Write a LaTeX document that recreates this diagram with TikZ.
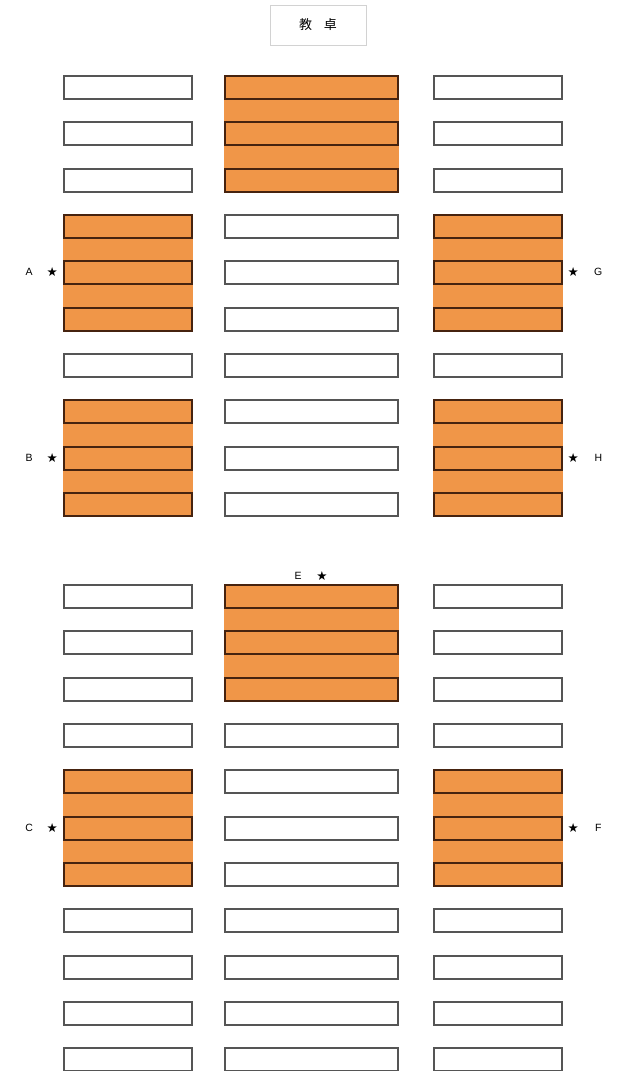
\documentclass[tikz,border=0pt]{standalone}
\usepackage{fontspec}
\setmainfont{Liberation Sans}
\newfontfamily\cjk{Noto Sans CJK SC}
\newfontfamily\symb{DejaVu Sans}
\usetikzlibrary{backgrounds}
\definecolor{seatorange}{RGB}{240,150,72}
\definecolor{brownline}{RGB}{70,35,15}
\definecolor{seatgray}{RGB}{85,85,85}
\definecolor{deskgray}{RGB}{210,210,210}
\tikzset{
  seat/.style={draw=seatgray, line width=1.5pt, fill=white, inner sep=0pt, anchor=north west, minimum height=23pt},
  hot/.style={draw=brownline, fill=seatorange},
  sidew/.style={minimum width=128pt},
  midw/.style={minimum width=173pt},
  lbl/.style={inner sep=0pt, font=\fontsize{10.5}{12}\selectfont},
  starlbl/.style={inner sep=0pt, font=\symb\fontsize{12.5}{14}\selectfont},
  desk/.style={draw=deskgray, line width=1pt, fill=white, minimum width=96pt, minimum height=40pt, font=\cjk\fontsize{13}{15}\selectfont}
}
\newcommand{\rowtop}[1]{\pgfmathsetmacro\yy{round(#1<11 ? 75+(#1-1)*46.33 : 584+(#1-11)*46.33)}}
\begin{document}
\begin{tikzpicture}[x=1pt, y=-1pt]
\useasboundingbox (0,0) rectangle (619,1071);
\begin{scope}[on background layer]
  \fill[white] (0,0) rectangle (619,1071);
\end{scope}
\node[desk] (desk) at (318,25) {教\hspace{0.9em}卓};
% side columns, plain seats
\foreach \i in {1,2,3,7,11,12,13,14,18,19,20,21}{
  \rowtop{\i}
  \node[seat, sidew] (L\i) at (63,\yy) {};
  \node[seat, sidew] (R\i) at (433,\yy) {};
}
% side columns, highlighted seats
\foreach \i in {4,5,6,8,9,10,15,16,17}{
  \rowtop{\i}
  \node[seat, sidew, hot] (L\i) at (63,\yy) {};
  \node[seat, sidew, hot] (R\i) at (433,\yy) {};
}
% centre column, plain seats
\foreach \i in {4,5,6,7,8,9,10,14,15,16,17,18,19,20,21}{
  \rowtop{\i}
  \node[seat, midw] (C\i) at (224,\yy) {};
}
% centre column, highlighted seats
\foreach \i in {1,2,3,11,12,13}{
  \rowtop{\i}
  \node[seat, midw, hot] (C\i) at (224,\yy) {};
}
% orange blocks behind the highlighted seats
\begin{scope}[on background layer]
  \fill[seatorange] (C1.north west) rectangle (C3.south east);
  \fill[seatorange] (L4.north west) rectangle (L6.south east);
  \fill[seatorange] (R4.north west) rectangle (R6.south east);
  \fill[seatorange] (L8.north west) rectangle (L10.south east);
  \fill[seatorange] (R8.north west) rectangle (R10.south east);
  \fill[seatorange] (C11.north west) rectangle (C13.south east);
  \fill[seatorange] (L15.north west) rectangle (L17.south east);
  \fill[seatorange] (R15.north west) rectangle (R17.south east);
\end{scope}
% labels
\node[starlbl, anchor=east] (sA) at ([xshift=-5pt]L5.west) {★};
\node[lbl] (A) at ([xshift=-23pt]sA.center) {A};
\node[starlbl, anchor=east] (sB) at ([xshift=-5pt]L9.west) {★};
\node[lbl] (B) at ([xshift=-23pt]sB.center) {B};
\node[starlbl, anchor=east] (sC) at ([xshift=-5pt]L16.west) {★};
\node[lbl] (C) at ([xshift=-23pt]sC.center) {C};
\node[starlbl, anchor=west] (sG) at ([xshift=5pt]R5.east) {★};
\node[lbl] (G) at ([xshift=25pt]sG.center) {G};
\node[starlbl, anchor=west] (sH) at ([xshift=5pt]R9.east) {★};
\node[lbl] (H) at ([xshift=25pt]sH.center) {H};
\node[starlbl, anchor=west] (sF) at ([xshift=5pt]R16.east) {★};
\node[lbl] (F) at ([xshift=25pt]sF.center) {F};
\node[starlbl] (sE) at (322,576) {★};
\node[lbl] (E) at (298,576) {E};
\end{tikzpicture}
\end{document}
